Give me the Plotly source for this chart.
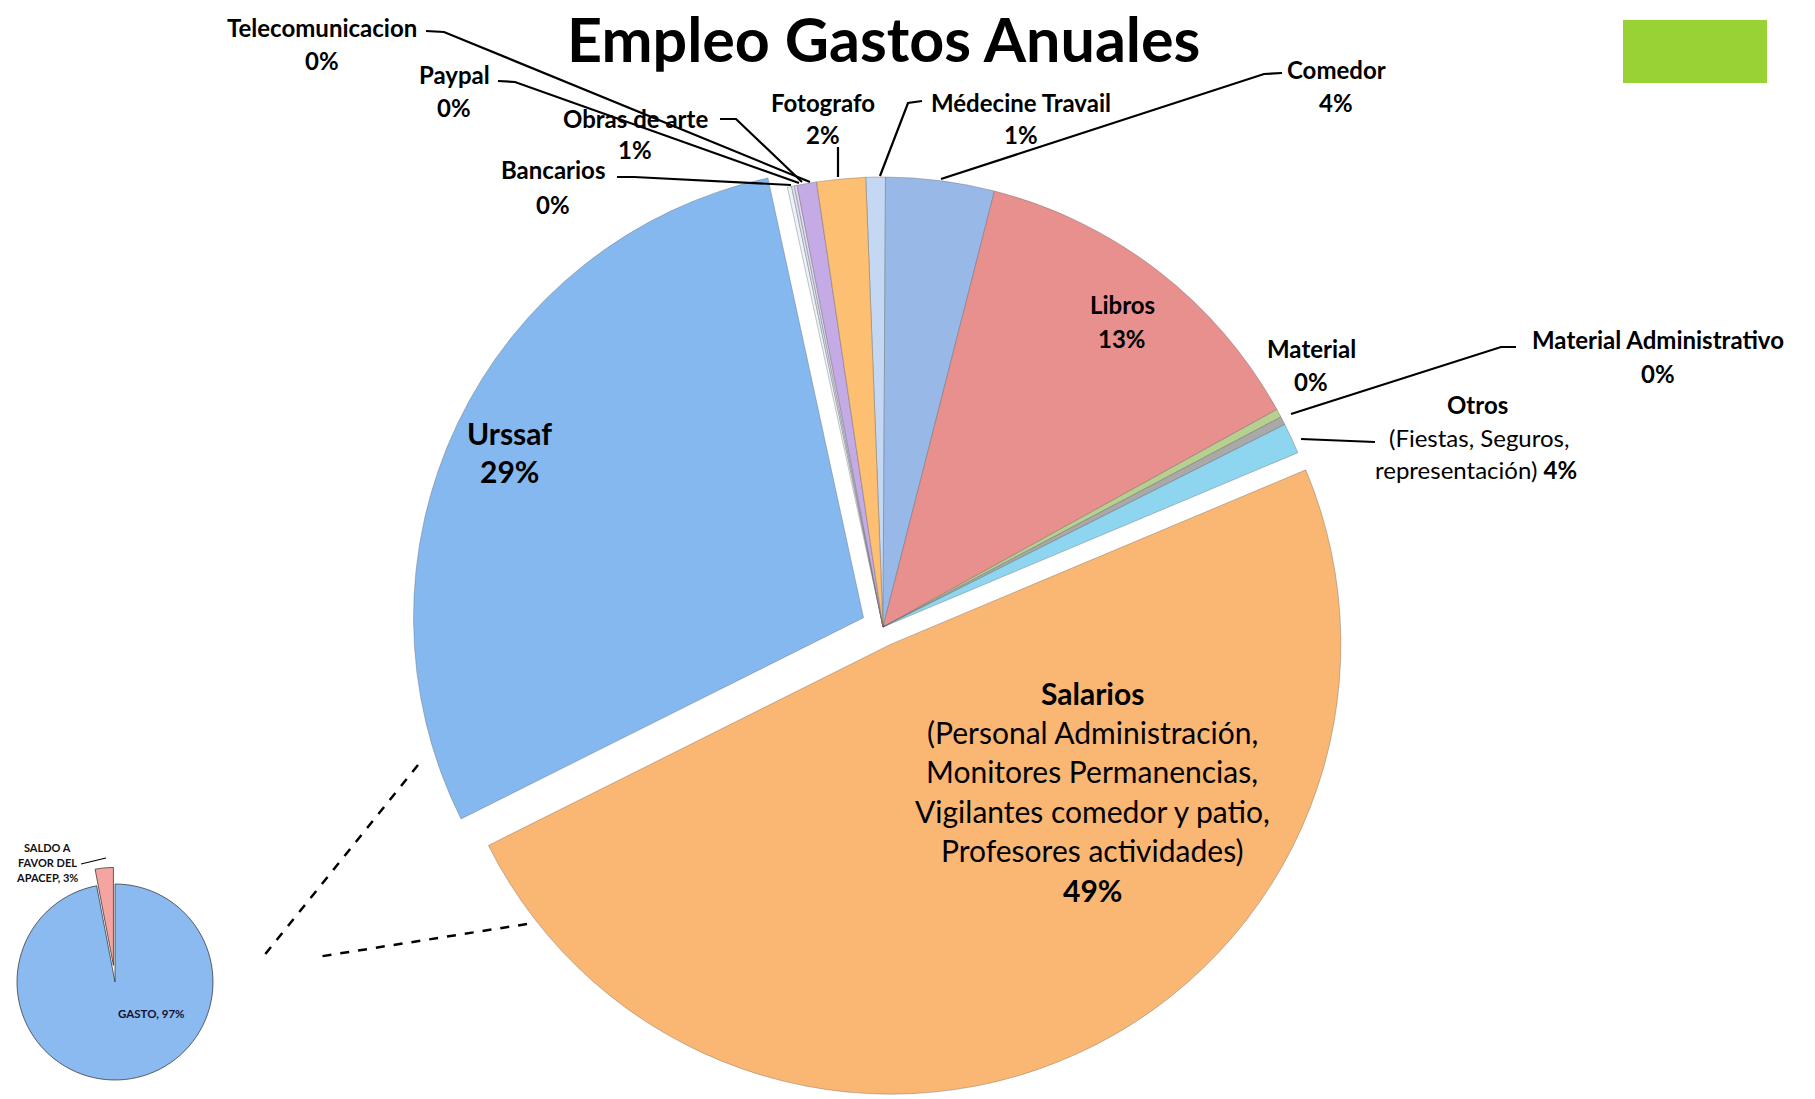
import plotly.graph_objects as go

W, H = 1815, 1099

# ---------------- data ----------------
slice_labels = ["Médecine Travail", "Comedor", "Libros", "Material", "Material Administrativo",
                "Otros", "Salarios", "Urssaf", "Bancarios", "Telecomunicacion", "Paypal",
                "Obras de arte", "Fotografo"]
slice_values = [0.7, 3.9, 13.0, 0.3, 0.3, 1.1, 49.0, 29.0, 0.15, 0.1, 0.1, 0.7, 1.75]
slice_colors = ["#C4D8F4", "#98B9E8", "#E8908E", "#B7D08F", "#A9A9A9", "#8ED5EF",
                "#FAB673", "#86B8F0", "#EEF3FA", "#D9E4F3", "#E2D6F0", "#C4ABE6", "#FDBF72"]
slice_pull = [0, 0, 0, 0, 0, 0, 0.042, 0.048, 0, 0, 0, 0, 0]

summary_labels = ["GASTO", "SALDO A FAVOR DEL APACEP"]
summary_values = [97, 3]
summary_colors = ["#8ABAF0", "#F4A4A1"]

title_text = "Empleo Gastos Anuales"

# ---------------- geometry helpers (layout only) ----------------
def px(x):
    return x / W

def py(y):
    return 1 - y / H

main_cx, main_cy, main_r = 883, 627, 450
max_pull = max(slice_pull)
half = main_r * (1 + max_pull)
main_domain = dict(x=[px(main_cx - half), px(main_cx + half)],
                   y=[max(0, py(main_cy + half)), py(main_cy - half)])

small_cx, small_cy, small_r, small_pull = 115, 982, 98, 0.17
shalf = small_r * (1 + small_pull)
small_domain = dict(x=[max(0, px(small_cx - shalf)), px(small_cx + shalf)],
                    y=[max(0, py(small_cy + shalf)), py(small_cy - shalf)])

fig = go.Figure()
fig.add_trace(go.Pie(
    labels=slice_labels, values=slice_values, sort=False, direction="clockwise",
    rotation=-2.2, pull=slice_pull, textinfo="none", hoverinfo="label+percent",
    marker=dict(colors=slice_colors, line=dict(color="rgba(90,90,90,0.35)", width=1)),
    domain=main_domain, showlegend=False))
fig.add_trace(go.Pie(
    labels=summary_labels, values=summary_values, sort=False, direction="clockwise",
    rotation=0, pull=[0, small_pull], textinfo="none", hoverinfo="label+percent",
    marker=dict(colors=summary_colors, line=dict(color="rgba(40,40,40,0.7)", width=1)),
    domain=small_domain, showlegend=False))

FONT = "Lato, 'Open Sans', sans-serif"
annotations = []

def txt(x, y, s, size=21, bold=True, color="#000000", yanchor="middle"):
    annotations.append(dict(
        x=px(x), y=py(y), xref="paper", yref="paper", xanchor="center", yanchor=yanchor,
        text=("<b>%s</b>" % s) if bold else s, showarrow=False,
        font=dict(family=FONT, size=size, color=color)))

# title
txt(883, 0, title_text, size=61, yanchor="top")

LS = 24   # label font size
label_lines = [
    (322, 27, "Telecomunicacion", LS, True), (322, 60, "0%", LS, True),
    (454, 74, "Paypal", LS, True), (454, 108, "0%", LS, True),
    (635, 118, "Obras de arte", LS, True), (635, 150, "1%", LS, True),
    (553, 170, "Bancarios", LS, True), (553, 204, "0%", LS, True),
    (823, 102, "Fotografo", LS, True), (823, 134, "2%", LS, True),
    (1021, 102, "Médecine Travail", LS, True), (1021, 134, "1%", LS, True),
    (1336, 69, "Comedor", LS, True), (1336, 102, "4%", LS, True),
    (1122, 304, "Libros", LS, True), (1122, 338, "13%", LS, True),
    (1311, 348, "Material", LS, True), (1311, 382, "0%", LS, True),
    (1658, 340, "Material Administrativo", LS, True), (1658, 373, "0%", LS, True),
    (1477, 404, "Otros", LS, True),
    (1479, 437, "(Fiestas, Seguros,", LS, False),
    (1476, 470, "representación) <b>4%</b>", LS, False),
    (509, 433, "Urssaf", 30, True), (509, 471, "29%", 30, True),
    (1092, 693, "Salarios", 30, True),
    (1092, 732, "(Personal Administración,", 30, False),
    (1092, 771, "Monitores Permanencias,", 30, False),
    (1092, 811, "Vigilantes comedor y patio,", 30, False),
    (1092, 850, "Profesores actividades)", 30, False),
    (1092, 890, "49%", 30, True),
]
for x, y, s, size, bold in label_lines:
    txt(x, y, s, size, bold)

# small pie labels
for x, y, s in [(47, 847, "SALDO A"), (47, 862, "FAVOR DEL"), (47, 877, "APACEP, 3%")]:
    txt(x, y, s, size=11, color="#111111")
txt(151, 1013, "GASTO, 97%", size=11.5, color="#111133")

shapes = []

def poly(points, width=2.2, dash="solid"):
    d = "M " + " L ".join("%.5f %.5f" % (px(a), py(b)) for a, b in points)
    shapes.append(dict(type="path", path=d, xref="paper", yref="paper",
                       line=dict(color="#000000", width=width, dash=dash)))

# leader lines
poly([(426, 31), (444, 32), (810, 182)])
poly([(498, 81), (515, 82), (799, 183)])
poly([(720, 119), (736, 119), (802, 182)])
poly([(617, 177), (634, 177), (791, 185)])
poly([(838, 147), (838, 177)])
poly([(922, 101), (908, 103), (880, 176)])
poly([(1282, 73), (1264, 74), (941, 179)])
poly([(1516, 347), (1501, 347), (1291, 414)])
poly([(1375, 442), (1301, 439)])
poly([(81, 864), (106, 858)], width=1.2)

# dashed connector lines to the summary pie
poly([(418, 765), (263, 957)], width=2.5, dash="dash")
poly([(527, 924), (317, 957)], width=2.5, dash="dash")

# green box top-right
shapes.append(dict(type="rect", xref="paper", yref="paper",
                   x0=px(1623), x1=px(1767), y0=py(83), y1=py(20),
                   fillcolor="#98D234", line=dict(width=0)))

fig.update_layout(
    width=W, height=H, autosize=False,
    margin=dict(l=0, r=0, t=0, b=0),
    paper_bgcolor="#FFFFFF", plot_bgcolor="#FFFFFF",
    annotations=annotations, shapes=shapes,
)

fig.write_html("out.html", config={"displayModeBar": False},
               post_script="document.body.style.margin='0';")
